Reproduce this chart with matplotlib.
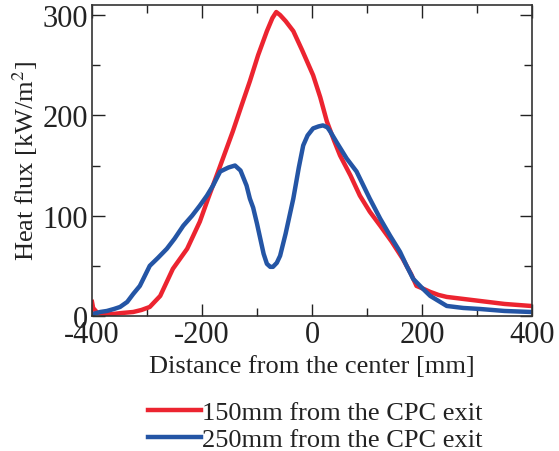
import matplotlib.pyplot as plt
from matplotlib.ticker import MultipleLocator

# 150mm from the CPC exit (red)
x_150 = [-400, -398, -390, -380, -362, -345, -325, -310, -295, -276, -253, -227,
         -204, -189, -170, -144, -128, -113, -98, -82, -72, -65, -58, -48, -34,
         -18, 2, 15, 27, 40, 51, 70, 87, 105, 124, 145, 165, 180, 190, 203, 215,
         230, 245, 275, 305, 350, 398]
y_150 = [14, 8, 3, 2, 2, 3, 4, 6, 9, 20, 47, 67,
         94, 117, 145, 184, 210, 234, 260, 284, 297, 303, 300, 294, 284,
         265, 240, 218, 194, 175, 160, 140, 120, 104, 90, 74, 57, 42, 30, 27, 24,
         21, 19, 17, 15, 12, 10]

# 250mm from the CPC exit (blue)
x_250 = [-398, -385, -373, -360, -349, -336, -325, -313, -295, -280, -264, -250,
         -234, -218, -204, -191, -180, -167, -152, -140, -130, -119, -113, -107,
         -100, -94, -88, -82, -76, -71, -64, -58, -48, -34, -24, -16, -8, 2, 12,
         20, 28, 33, 45, 63, 81, 105, 124, 142, 160, 172, 184, 200, 215, 230, 245,
         275, 305, 350, 398]
y_250 = [2, 4, 5, 7, 9, 14, 22, 30, 50, 58, 67, 77,
         90, 100, 110, 120, 130, 144, 148, 150, 145, 130, 117, 108,
         92, 77, 62, 52, 49, 49, 53, 60, 82, 117, 148, 170, 180, 187, 189,
         190, 188, 184, 173, 157, 144, 117, 97, 80, 64, 50, 37, 28, 20, 15, 10,
         8, 7, 5, 4]

x_ticks = [-400, -200, 0, 200, 400]
y_ticks = [0, 100, 200, 300]

plt.rcParams['font.family'] = ['Liberation Serif', 'DejaVu Serif']
plt.rcParams['mathtext.fontset'] = 'stix'
plt.rcParams['axes.unicode_minus'] = False

fig = plt.figure(figsize=(5.59, 4.52), dpi=100)
ax = fig.add_axes([0.1646, 0.2987, 0.7871, 0.688])

ax.plot(x_150, y_150, color='#ec2430', lw=3.2, label='150mm from the CPC exit')
ax.plot(x_250, y_250, color='#2455a5', lw=3.2, label='250mm from the CPC exit')

ax.set_xlim(-400, 400)
ax.set_ylim(0, 310)
ax.set_xticks(x_ticks)
ax.set_yticks(y_ticks)
ax.xaxis.set_minor_locator(MultipleLocator(100))
ax.yaxis.set_minor_locator(MultipleLocator(50))
ax.tick_params(which='both', direction='in', top=True, right=True,
               labelsize=22, width=1, pad=3, colors='#222222')
ax.tick_params(which='major', length=9)
ax.tick_params(which='minor', length=6)
for s in ax.spines.values():
    s.set_linewidth(1.2)
    s.set_color('#333333')

ax.set_xlabel('Distance from the center [mm]', fontsize=19, labelpad=4,
              color='#222222')
ax.set_ylabel('Heat flux [kW/m$^2$]', fontsize=19, labelpad=2,
              color='#222222')

leg = fig.legend(loc='upper left', bbox_to_anchor=(0.265, 0.112), frameon=False,
                 fontsize=19, handlelength=2.0, handletextpad=0.05,
                 labelspacing=0.15, borderpad=0, borderaxespad=0)
for t in leg.get_texts():
    t.set_color('#222222')

fig.savefig('out.png', dpi=100)
